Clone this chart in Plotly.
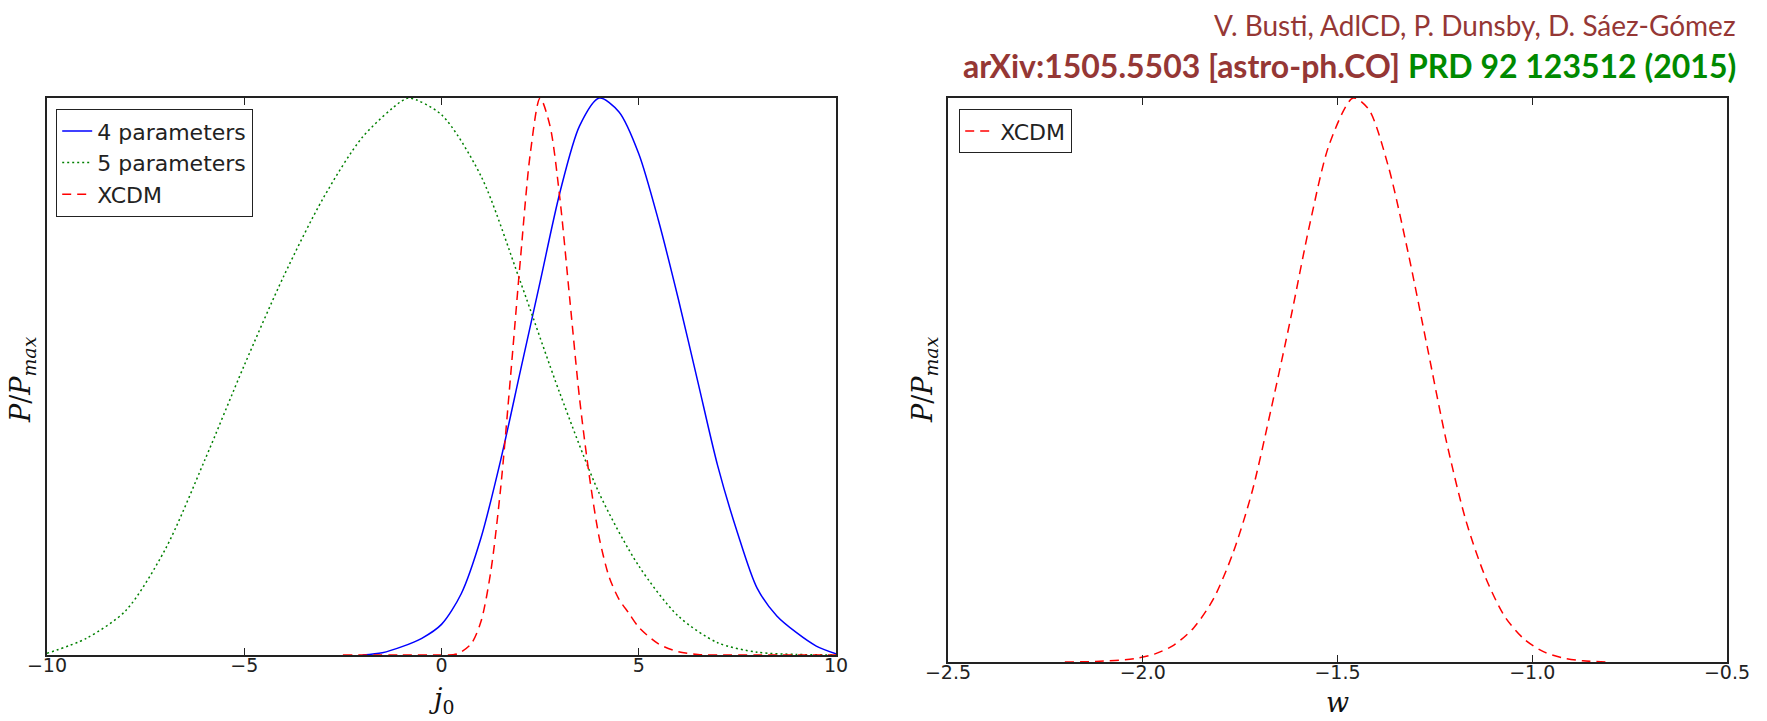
import plotly.graph_objects as go

# ---------------- data ----------------
# left panel: j0
j_4par = [-2.0, -1.5, -1.0, -0.5, 0.0, 0.5, 1.0, 1.5, 2.0, 2.5, 3.0, 3.5, 4.0, 4.5, 5.0, 5.5,
          6.0, 6.5, 7.0, 7.5, 8.0, 8.5, 9.0, 9.5, 10.0]
p_4par = [0.0, 0.004, 0.015, 0.03, 0.055, 0.11, 0.21, 0.35, 0.51, 0.67, 0.83, 0.95, 1.0, 0.975,
          0.90, 0.78, 0.64, 0.49, 0.34, 0.22, 0.12, 0.07, 0.04, 0.016, 0.002]

j_5par = [-10, -9, -8, -7, -6, -5, -4, -3, -2, -1, -0.8, 0, 1, 2, 3, 4, 5, 6, 7, 8, 9, 10]
p_5par = [0.003, 0.03, 0.08, 0.19, 0.35, 0.52, 0.68, 0.82, 0.93, 0.995, 1.0, 0.97, 0.86, 0.67,
          0.47, 0.29, 0.16, 0.07, 0.022, 0.005, 0.001, 0.0]

j_xcdm = [-2.5, -1.0, 0.0, 0.4, 0.75, 1.0, 1.25, 1.5, 1.75, 2.0, 2.25, 2.5, 2.75, 3.0, 3.25, 3.5,
          3.75, 4.0, 4.25, 4.5, 4.75, 5.0, 5.5, 6.0, 6.5, 7.0, 8.0, 10.0]
p_xcdm = [0.0, 0.0, 0.0, 0.002, 0.02, 0.06, 0.15, 0.3, 0.5, 0.71, 0.9, 1.0, 0.95, 0.82, 0.64, 0.46,
          0.32, 0.21, 0.14, 0.1, 0.075, 0.05, 0.02, 0.006, 0.001, 0.0, 0.0, 0.0]

# right panel: w
w_xcdm = [-2.2, -2.12, -2.02, -1.97, -1.92, -1.87, -1.82, -1.77, -1.72, -1.67, -1.62, -1.57,
          -1.52, -1.46, -1.42, -1.37, -1.32, -1.27, -1.22, -1.17, -1.12, -1.07, -1.02, -0.97,
          -0.92, -0.87, -0.8]
pw_xcdm = [0.0, 0.001, 0.006, 0.014, 0.03, 0.06, 0.11, 0.19, 0.3, 0.45, 0.61, 0.78, 0.92,
           1.0, 0.98, 0.88, 0.73, 0.56, 0.39, 0.25, 0.15, 0.08, 0.04, 0.018, 0.007, 0.002, 0.0]

j_ticks = [-10, -5, 0, 5, 10]
w_ticks = [-2.5, -2.0, -1.5, -1.0, -0.5]

names = ["4 parameters", "5 parameters", "XCDM"]
credit_line1 = "V. Busti, AdlCD, P. Dunsby, D. Sáez-Gómez"
credit_arxiv = "arXiv:1505.5503 [astro-ph.CO]"
credit_prd = "PRD 92 123512 (2015)"

# ---------------- figure ----------------
W, H = 1767, 721
ML, MR = 22, 22
PW = W - ML - MR
fig = go.Figure()

fig.add_trace(go.Scatter(x=j_4par, y=p_4par, mode="lines", name=names[0],
                         line=dict(color="#0000ff", width=1.5, shape="spline", smoothing=0.8),
                         xaxis="x", yaxis="y", legend="legend"))
fig.add_trace(go.Scatter(x=j_5par, y=p_5par, mode="lines", name=names[1],
                         line=dict(color="#008000", width=1.5, dash="2px,3px", shape="spline", smoothing=0.8),
                         xaxis="x", yaxis="y", legend="legend"))
fig.add_trace(go.Scatter(x=j_xcdm, y=p_xcdm, mode="lines", name=names[2],
                         line=dict(color="#ff0000", width=1.5, dash="9px,6px", shape="spline", smoothing=0.8),
                         xaxis="x", yaxis="y", legend="legend"))
fig.add_trace(go.Scatter(x=w_xcdm, y=pw_xcdm, mode="lines", name=names[2],
                         line=dict(color="#ff0000", width=1.5, dash="9px,6px", shape="spline", smoothing=0.8),
                         xaxis="x2", yaxis="y2", legend="legend2"))

def px(v):
    return (v - ML) / PW

def py(v):
    return (H - v) / H

axis_common = dict(showgrid=False, zeroline=False, showline=True, linecolor="#222222",
                   linewidth=1.5, mirror="ticks", ticks="inside", ticklen=7, tickwidth=1.2,
                   tickcolor="#222222", automargin=False, ticklabelstandoff=-8,
                   tickfont=dict(family="DejaVu Sans", size=19, color="#222222"))

fig.update_layout(
    width=W, height=H,
    margin=dict(l=ML, r=MR, t=0, b=0, pad=0),
    paper_bgcolor="white", plot_bgcolor="white",
    showlegend=True,
    xaxis=dict(domain=[px(47), px(836)], range=[-10, 10], tickvals=j_ticks,
               anchor="y", **axis_common),
    yaxis=dict(domain=[py(655), py(98)], range=[0, 1], showticklabels=False,
               anchor="x", showgrid=False, zeroline=False, showline=True, linecolor="#222222",
               linewidth=1.5, mirror=True, ticks="", automargin=False),
    xaxis2=dict(domain=[px(948), px(1727)], range=[-2.5, -0.5], tickvals=w_ticks,
                tickformat=".1f", anchor="y2", **axis_common),
    yaxis2=dict(domain=[py(662), py(98)], range=[0, 1], showticklabels=False,
                anchor="x2", showgrid=False, zeroline=False, showline=True, linecolor="#222222",
                linewidth=1.5, mirror=True, ticks="", automargin=False),
    legend=dict(x=px(56), y=py(109), xanchor="left", yanchor="top",
                bgcolor="white", bordercolor="#222222", borderwidth=1.2,
                font=dict(family="DejaVu Sans", size=22, color="#222222"),
                tracegroupgap=0),
    legend2=dict(x=px(959), y=py(109), xanchor="left", yanchor="top",
                 bgcolor="white", bordercolor="#222222", borderwidth=1.2,
                 font=dict(family="DejaVu Sans", size=22, color="#222222")),
)

title_font = dict(family="DejaVu Serif", size=27, color="#111111")
annotations = [
    # axis titles
    dict(x=px((47 + 836) / 2), y=py(700), xref="paper", yref="paper", showarrow=False,
         xanchor="center", yanchor="middle",
         text="<i>j</i><sub>0</sub>", font=title_font),
    dict(x=px((948 + 1727) / 2), y=py(702), xref="paper", yref="paper", showarrow=False,
         xanchor="center", yanchor="middle",
         text="<i>w</i>", font=title_font),
    dict(x=px(22), y=py(380), xref="paper", yref="paper", showarrow=False, textangle=-90,
         xanchor="center", yanchor="middle",
         text="<i>P</i>/<i>P</i><sub><i>max</i></sub>", font=title_font),
    dict(x=px(924), y=py(380), xref="paper", yref="paper", showarrow=False, textangle=-90,
         xanchor="center", yanchor="middle",
         text="<i>P</i>/<i>P</i><sub><i>max</i></sub>", font=title_font),
    # credits
    dict(x=px(1738), y=py(25), xref="paper", yref="paper", showarrow=False,
         xanchor="right", yanchor="middle",
         text=credit_line1, font=dict(family="Lato", size=28, color="#953735")),
    dict(x=px(1738), y=py(66), xref="paper", yref="paper", showarrow=False,
         xanchor="right", yanchor="middle",
         text="<b><span style='color:#953735'>" + credit_arxiv + "</span> "
              "<span style='color:#008a00'>" + credit_prd + "</span></b>",
         font=dict(family="Lato", size=32, color="#953735")),
]
fig.update_layout(annotations=annotations)

fig.write_html("out.html")
